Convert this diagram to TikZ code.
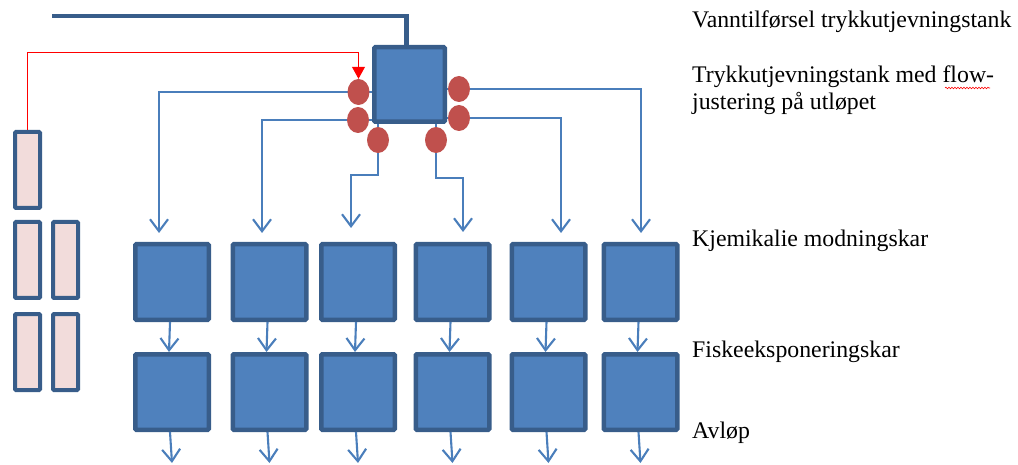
\documentclass[tikz,border=0pt]{standalone}
\usepackage{fontspec}
\setmainfont{Liberation Serif}
\usetikzlibrary{shapes.geometric,arrows.meta,backgrounds,decorations.pathmorphing}
\definecolor{boxfill}{HTML}{4F81BD}
\definecolor{boxline}{HTML}{385D8A}
\definecolor{valve}{HTML}{C0504D}
\definecolor{pinkfill}{HTML}{F2DCDB}
\definecolor{pipe}{HTML}{4A7EBB}
\definecolor{ctrl}{HTML}{FF0000}
\tikzset{
  kar/.style={draw=boxline,fill=boxfill,line width=4.5pt,rounded corners=1pt,minimum width=73.5pt,minimum height=75.5pt,inner sep=0pt},
  tank/.style={draw=boxline,fill=boxfill,line width=4.5pt,rounded corners=1pt,minimum width=70.5pt,minimum height=74.5pt,inner sep=0pt},
  valvenode/.style={ellipse,fill=valve,minimum width=22pt,minimum height=26pt,inner sep=0pt},
  pinkrect/.style={draw=boxline,fill=pinkfill,line width=4pt,rounded corners=1pt,minimum width=25pt,minimum height=76pt,inner sep=0pt},
  conn/.style={draw=pipe,line width=2.1pt,-{Straight Barb[length=12pt,width=18pt,line width=2.1pt]}},
  pipeline/.style={draw=pipe,line width=2.1pt},
  lbl/.style={anchor=base west,inner sep=0pt,font=\fontsize{23.8}{27}\selectfont},
}
\begin{document}
\begin{tikzpicture}[x=1pt,y=-1pt]
\useasboundingbox (0,0) rectangle (1018,465);
% tank
\node[tank] (tank) at (409.5,84.5) {};
% valves
\node[valvenode] (e1) at (358.5,92) {};
\node[valvenode] (e2) at (358,120) {};
\node[valvenode] (e3) at (378,140) {};
\node[valvenode] (e4) at (436,140) {};
\node[valvenode] (e5) at (459,118) {};
\node[valvenode] (e6) at (459,89) {};
% basins
\foreach \i/\x in {1/172,2/269.5,3/358,4/452.5,5/548.5,6/640.5}{
  \node[kar] (k\i) at (\x,282) {};
  \node[kar] (f\i) at (\x,392) {};
  \coordinate (o\i) at ([yshift=-31pt]f\i.south);
}
% pink rectangles
\node[pinkrect] (r1) at (27.5,170) {};
\node[pinkrect] (r2) at (27.5,260) {};
\node[pinkrect] (r3) at (65.5,260) {};
\node[pinkrect] (r4) at (27.5,352) {};
\node[pinkrect] (r5) at (65.5,352) {};
% inlet
\coordinate (inlet) at (52,16);
\begin{scope}[on background layer]
\draw[boxline,line width=4.5pt] (inlet) -| ([xshift=-3pt,yshift=-5pt]tank.north);
\draw[pipeline] (e1.center) -- (tank.center |- e1.center);
\draw[pipeline] (e2.center) -- ([xshift=-30pt]tank.center |- e2.center);
\draw[pipeline] (e6.center) -- ([xshift=13pt]tank.center |- e6.center);
\draw[pipeline] (e5.center) -- ([xshift=30pt]tank.center |- e5.center);
\draw[pipeline] (e3.center) -- ++(0,-20);
\draw[pipeline] (e4.center) -- ++(0,-20);
\draw[conn,shorten >=9pt] (e1.center) -| ([xshift=-13pt]k1.north);
\draw[conn,shorten >=9pt] (e2.center) -| ([xshift=-7.5pt]k2.north);
\draw[conn,shorten >=7pt] (e3.center) |- (351,175) -- ([xshift=-7pt,yshift=7pt]k3.north);
\draw[conn,shorten >=5pt] (e4.center) |- (463,178) -- ([xshift=10.5pt,yshift=5pt]k4.north);
\draw[conn,shorten >=9pt] (e5.center) -| ([xshift=12.5pt]k5.north);
\draw[conn,shorten >=9pt] (e6.center) -| ([xshift=0.5pt]k6.north);
\end{scope}
\foreach \i in {1,...,6}{
  \draw[conn] ([xshift=-2pt]k\i.south) -- ([xshift=-3pt]f\i.north);
  \draw[conn] ([xshift=-2pt]f\i.south) -- (o\i);
}
% red control line
\draw[draw=ctrl,line width=1pt,-{Triangle[length=12pt,width=13pt,fill=ctrl]}] (r1.north) |- ([yshift=26.5pt]e1.north) -- (e1.north);
% labels
\node[lbl] (t1) at (692,28) {Vanntilførsel trykkutjevningstank};
\node[lbl] (t2) at (692,83) {Trykkutjevningstank med flow-};
\node[lbl] (t3) at (692,110) {justering på utløpet};
\node[lbl] (t4) at (692,247) {Kjemikalie modningskar};
\node[lbl] (t5) at (692,357) {Fiskeeksponeringskar};
\node[lbl] (t6) at (692,438) {Avløp};
\draw[ctrl,line width=0.6pt,decorate,decoration={snake,amplitude=0.8pt,segment length=3pt}] (945,88) -- (990,88);
\end{tikzpicture}
\end{document}
